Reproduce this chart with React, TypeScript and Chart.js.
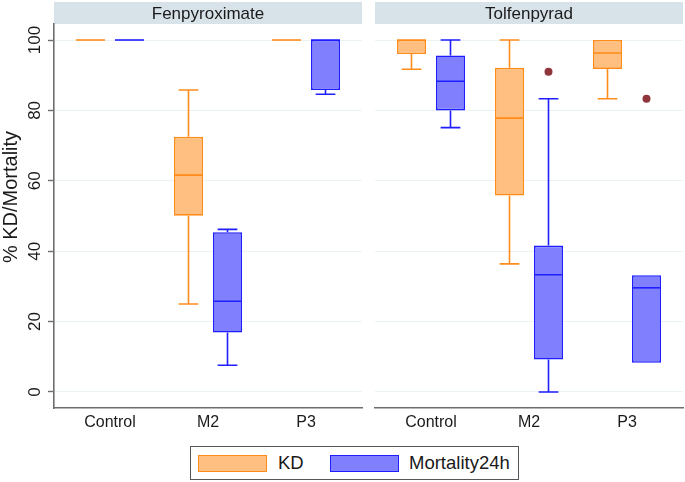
import React, { useEffect, useRef } from 'react';
import { Chart, registerables } from 'chart.js';

Chart.register(...registerables);

const panels = ['Fenpyroximate', 'Tolfenpyrad'];
const categories = ['Control', 'M2', 'P3'];
const seriesNames = ['KD', 'Mortality24h'];
const yTicks = [0, 20, 40, 60, 80, 100];
const yTitle = '% KD/Mortality';

// Fenpyroximate – KD
const fenKdLow = [100, 25.0, 100];
const fenKdQ1 = [100, 50.1, 100];
const fenKdMed = [100, 61.6, 100];
const fenKdQ3 = [100, 72.5, 100];
const fenKdHigh = [100, 85.8, 100];
const fenKdOut: number[][] = [[], [], []];

// Fenpyroximate – Mortality24h
const fenMoLow = [100, 7.6, 84.6];
const fenMoQ1 = [100, 16.9, 85.8];
const fenMoMed = [100, 25.8, 100];
const fenMoQ3 = [100, 45.4, 100];
const fenMoHigh = [100, 46.2, 100];
const fenMoOut: number[][] = [[], [], []];

// Tolfenpyrad – KD
const tolKdLow = [91.7, 36.4, 83.3];
const tolKdQ1 = [96.0, 55.8, 91.8];
const tolKdMed = [100, 77.8, 96.3];
const tolKdQ3 = [100, 92.1, 100];
const tolKdHigh = [100, 100, 100];
const tolKdOut: number[][] = [[], [], []];

// Tolfenpyrad – Mortality24h
const tolMoLow = [75.1, 0, 8.3];
const tolMoQ1 = [80.0, 9.2, 8.3];
const tolMoMed = [88.3, 33.3, 29.6];
const tolMoQ3 = [95.6, 41.6, 33.2];
const tolMoHigh = [100, 83.3, 33.2];
const tolMoOut: number[][] = [[], [91.0], [83.3]];

const FONT = "'Liberation Sans', Arial, sans-serif";
const KD_FILL = 'rgb(255,191,128)';
const KD_LINE = 'rgb(255,140,26)';
const MO_FILL = 'rgb(128,128,255)';
const MO_LINE = 'rgb(30,30,255)';
const OUT_COLOR = 'rgb(144,53,59)';
const AXIS_COLOR = '#6e6e6e';
const GRID_COLOR = 'rgb(234,242,243)';
const STRIP_COLOR = 'rgb(216,226,233)';
const TEXT_COLOR = '#1a1a1a';

type Stats = { low: number[]; q1: number[]; med: number[]; q3: number[]; high: number[]; out: number[][] };

const panelStats: Stats[][] = [
  [
    { low: fenKdLow, q1: fenKdQ1, med: fenKdMed, q3: fenKdQ3, high: fenKdHigh, out: fenKdOut },
    { low: fenMoLow, q1: fenMoQ1, med: fenMoMed, q3: fenMoQ3, high: fenMoHigh, out: fenMoOut },
  ],
  [
    { low: tolKdLow, q1: tolKdQ1, med: tolKdMed, q3: tolKdQ3, high: tolKdHigh, out: tolKdOut },
    { low: tolMoLow, q1: tolMoQ1, med: tolMoMed, q3: tolMoQ3, high: tolMoHigh, out: tolMoOut },
  ],
];

const fills = [KD_FILL, MO_FILL];
const lines = [KD_LINE, MO_LINE];

const CANVAS_H = 440;
const PLOT_BOTTOM = 408;

const boxPlugin = {
  id: 'boxWhiskers',
  afterDatasetsDraw(chart: any) {
    const ctx = chart.ctx;
    const ys = chart.scales.y;
    chart.data.datasets.forEach((ds: any, d: number) => {
      const s: Stats = ds.stats;
      const meta = chart.getDatasetMeta(d);
      meta.data.forEach((el: any, i: number) => {
        const x = el.x;
        const w = el.width;
        const cap = w * 0.34;
        const pq1 = ys.getPixelForValue(s.q1[i]);
        const pq3 = ys.getPixelForValue(s.q3[i]);
        const pmed = ys.getPixelForValue(s.med[i]);
        const plo = ys.getPixelForValue(s.low[i]);
        const phi = ys.getPixelForValue(s.high[i]);
        ctx.save();
        ctx.strokeStyle = ds.borderColor;
        ctx.lineWidth = 1.6;
        ctx.beginPath();
        if (s.high[i] > s.q3[i]) {
          ctx.moveTo(x, pq3);
          ctx.lineTo(x, phi);
          ctx.moveTo(x - cap, phi);
          ctx.lineTo(x + cap, phi);
        }
        if (s.low[i] < s.q1[i]) {
          ctx.moveTo(x, pq1);
          ctx.lineTo(x, plo);
          ctx.moveTo(x - cap, plo);
          ctx.lineTo(x + cap, plo);
        }
        ctx.moveTo(x - w / 2, pmed);
        ctx.lineTo(x + w / 2, pmed);
        ctx.stroke();
        ctx.fillStyle = OUT_COLOR;
        s.out[i].forEach((v) => {
          ctx.beginPath();
          ctx.arc(x, ys.getPixelForValue(v), 4, 0, Math.PI * 2);
          ctx.fill();
        });
        ctx.restore();
      });
    });
  },
};

function makeHeaderPlugin(text: string) {
  return {
    id: 'panelHeader',
    beforeDraw(chart: any) {
      const ctx = chart.ctx;
      const a = chart.chartArea;
      ctx.save();
      ctx.fillStyle = STRIP_COLOR;
      ctx.fillRect(a.left, 2, a.right - a.left, a.top - 2);
      ctx.fillStyle = TEXT_COLOR;
      ctx.font = `17px ${FONT}`;
      ctx.textAlign = 'center';
      ctx.textBaseline = 'middle';
      ctx.fillText(text, (a.left + a.right) / 2, (a.top + 2) / 2 + 1);
      ctx.restore();
    },
  };
}

const yLabelPlugin = {
  id: 'yLabels',
  afterDraw(chart: any) {
    const ctx = chart.ctx;
    const ys = chart.scales.y;
    ctx.save();
    ctx.fillStyle = TEXT_COLOR;
    ctx.textAlign = 'center';
    ctx.textBaseline = 'middle';
    ctx.font = `17px ${FONT}`;
    yTicks.forEach((v) => {
      ctx.save();
      ctx.translate(35.5, ys.getPixelForValue(v));
      ctx.rotate(-Math.PI / 2);
      ctx.fillText(String(v), 0, 0);
      ctx.restore();
    });
    ctx.font = `20px ${FONT}`;
    ctx.translate(11, 197);
    ctx.rotate(-Math.PI / 2);
    ctx.fillText(yTitle, 0, 0);
    ctx.restore();
  },
};

function Panel({ index, left, width, yAxisWidth, padRight }: { index: number; left: number; width: number; yAxisWidth: number; padRight: number }) {
  const ref = useRef<HTMLCanvasElement>(null);
  useEffect(() => {
    const isLeft = index === 0;
    const datasets = panelStats[index].map((s, d) => ({
      type: 'bar' as const,
      label: seriesNames[d],
      data: categories.map((_, i) => ({ x: i + 1, y: [s.q1[i], s.q3[i]] })),
      backgroundColor: fills[d],
      borderColor: lines[d],
      borderWidth: 1.6,
      borderSkipped: false,
      categoryPercentage: 0.796,
      barPercentage: 0.744,
      stats: s,
    }));
    const plugins: any[] = [boxPlugin, makeHeaderPlugin(panels[index])];
    if (isLeft) plugins.push(yLabelPlugin);
    const chart = new Chart(ref.current as HTMLCanvasElement, {
      type: 'bar',
      data: { datasets: datasets as any },
      options: {
        animation: false,
        responsive: false,
        maintainAspectRatio: false,
        layout: { padding: { top: 24, right: padRight, left: 0, bottom: 0 } },
        plugins: { legend: { display: false }, tooltip: { enabled: false } },
        scales: {
          x: {
            type: 'linear',
            offset: false,
            min: 1 - 56 / 98,
            max: 3 + 56 / 98,
            grid: { display: false, drawTicks: false, offset: false },
            border: { display: true, color: AXIS_COLOR, width: 1.6 },
            ticks: {
              font: { family: FONT, size: 16 },
              color: TEXT_COLOR,
              padding: 5,
              autoSkip: false,
              maxRotation: 0,
              callback: (v: any) => categories[Number(v) - 1] ?? '',
            },
            afterBuildTicks: (s: any) => {
              s.ticks = categories.map((_, i) => ({ value: i + 1 }));
            },
            afterFit: (s: any) => {
              s.height = CANVAS_H - PLOT_BOTTOM;
            },
          },
          y: {
            type: 'linear',
            min: -4.55,
            max: 104.55,
            grid: {
              color: GRID_COLOR,
              lineWidth: 1,
              drawTicks: isLeft,
              tickLength: 6,
              tickColor: AXIS_COLOR,
              tickWidth: 1.4,
            },
            border: { display: isLeft, color: AXIS_COLOR, width: 1.6 },
            ticks: { display: false },
            afterBuildTicks: (s: any) => {
              s.ticks = yTicks.map((v) => ({ value: v }));
            },
            afterFit: (s: any) => {
              s.width = yAxisWidth;
            },
          },
        },
      } as any,
      plugins,
    });
    return () => chart.destroy();
  }, []);
  return (
    <canvas
      ref={ref}
      width={width}
      height={CANVAS_H}
      style={{ position: 'absolute', left, top: 0, width, height: CANVAS_H }}
    />
  );
}

const swatch = (fill: string, line: string, left: number): React.CSSProperties => ({
  position: 'absolute',
  left,
  top: 8,
  width: 69,
  height: 17,
  boxSizing: 'border-box',
  background: fill,
  border: `1.6px solid ${line}`,
});

export default function App() {
  return (
    <div style={{ position: 'absolute', left: 0, top: 0, width: 685, height: 482, background: '#fff', overflow: 'hidden' }}>
      <Panel index={0} left={0} width={365} yAxisWidth={54} padRight={3} />
      <Panel index={1} left={365} width={320} yAxisWidth={10} padRight={2} />
      <div
        style={{
          position: 'absolute',
          left: 190,
          top: 446,
          width: 329,
          height: 34,
          boxSizing: 'border-box',
          border: '1px solid #555',
          fontFamily: FONT,
          fontSize: 18.5,
          color: TEXT_COLOR,
        }}
      >
        <div style={swatch(KD_FILL, KD_LINE, 7)} />
        <span style={{ position: 'absolute', left: 87, top: 16, transform: 'translateY(-50%)', lineHeight: 1 }}>{seriesNames[0]}</span>
        <div style={swatch(MO_FILL, MO_LINE, 139)} />
        <span style={{ position: 'absolute', left: 218, top: 16, transform: 'translateY(-50%)', lineHeight: 1 }}>{seriesNames[1]}</span>
      </div>
    </div>
  );
}
